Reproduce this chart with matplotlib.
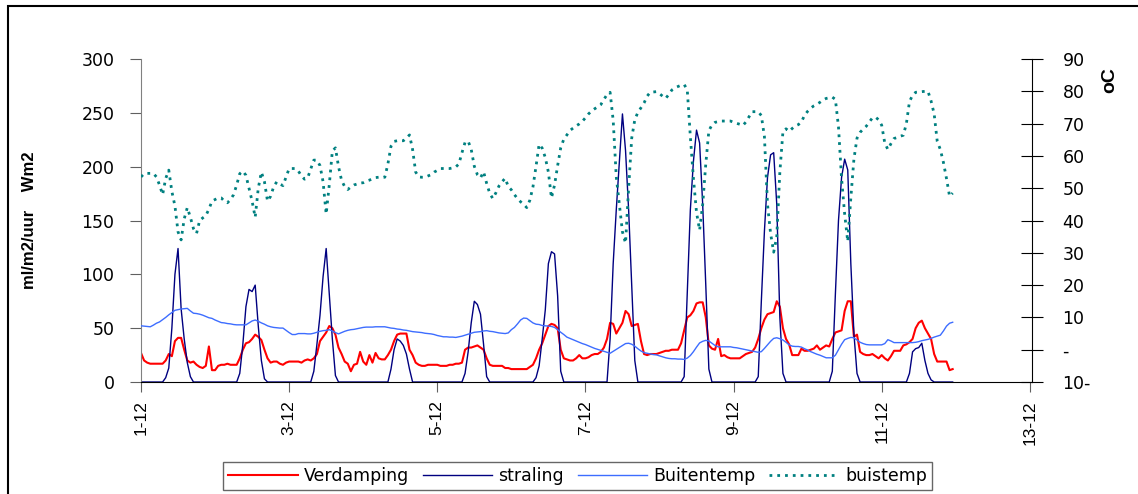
import numpy as np
import matplotlib
matplotlib.use("Agg")
import matplotlib.pyplot as plt
from matplotlib.patches import Rectangle

plt.rcParams['font.family'] = ['DejaVu Sans']

# hourly data, 11 days starting 1-12 00:00 (one row per day)
verdamping = [
    27, 20, 18, 17, 17, 17, 17, 17, 20, 26, 24, 38, 41, 41, 30, 20, 18, 19, 16, 14, 13, 15, 33, 11,
    11, 15, 16, 16, 17, 16, 16, 16, 22, 30, 36, 37, 40, 44, 42, 39, 30, 22, 18, 19, 19, 17, 16, 18,
    19, 19, 19, 19, 18, 20, 21, 20, 22, 26, 38, 42, 46, 52, 50, 44, 32, 26, 19, 17, 10, 16, 17, 28,
    19, 16, 25, 18, 27, 22, 21, 21, 25, 30, 38, 44, 45, 45, 45, 30, 25, 18, 16, 15, 15, 16, 16, 16,
    16, 15, 15, 15, 16, 16, 17, 17, 18, 30, 32, 32, 33, 34, 32, 30, 22, 16, 15, 15, 15, 15, 13, 13,
    12, 12, 12, 12, 12, 12, 14, 16, 22, 30, 36, 44, 52, 54, 53, 50, 30, 22, 21, 20, 20, 22, 25, 22,
    22, 23, 25, 26, 26, 28, 32, 40, 55, 54, 45, 50, 55, 66, 63, 52, 53, 54, 38, 26, 25, 26, 26, 26,
    27, 28, 29, 29, 30, 30, 30, 36, 48, 60, 62, 66, 73, 74, 74, 60, 34, 31, 30, 40, 24, 25, 23, 22,
    22, 22, 22, 24, 26, 27, 28, 32, 40, 50, 58, 63, 64, 65, 75, 70, 50, 40, 35, 25, 25, 25, 31, 29,
    29, 30, 31, 34, 30, 32, 34, 33, 40, 46, 47, 48, 66, 75, 75, 42, 44, 28, 26, 25, 25, 26, 24, 22,
    25, 22, 20, 24, 29, 29, 29, 34, 35, 37, 40, 50, 55, 57, 50, 45, 40, 26, 19, 19, 19, 19, 11, 12,
]

straling = [
    0, 0, 0, 0, 0, 0, 0, 0, 4, 13, 50, 100, 124, 68, 40, 18, 5, 0, 0, 0, 0, 0, 0, 0,
    0, 0, 0, 0, 0, 0, 0, 0, 8, 35, 70, 86, 84, 90, 52, 20, 3, 0, 0, 0, 0, 0, 0, 0,
    0, 0, 0, 0, 0, 0, 0, 0, 10, 35, 62, 98, 124, 82, 40, 6, 0, 0, 0, 0, 0, 0, 0, 0,
    0, 0, 0, 0, 0, 0, 0, 0, 0, 12, 30, 40, 38, 34, 26, 12, 0, 0, 0, 0, 0, 0, 0, 0,
    0, 0, 0, 0, 0, 0, 0, 0, 0, 8, 28, 55, 75, 72, 63, 35, 5, 0, 0, 0, 0, 0, 0, 0,
    0, 0, 0, 0, 0, 0, 0, 0, 4, 15, 40, 67, 110, 121, 119, 80, 10, 0, 0, 0, 0, 0, 0, 0,
    0, 0, 0, 0, 0, 0, 0, 0, 40, 110, 160, 205, 249, 215, 160, 90, 20, 0, 0, 0, 0, 0, 0, 0,
    0, 0, 0, 0, 0, 0, 0, 0, 5, 82, 160, 205, 234, 222, 165, 90, 12, 0, 0, 0, 0, 0, 0, 0,
    0, 0, 0, 0, 0, 0, 0, 0, 5, 75, 140, 190, 211, 213, 165, 60, 8, 0, 0, 0, 0, 0, 0, 0,
    0, 0, 0, 0, 0, 0, 0, 0, 10, 82, 150, 190, 207, 197, 110, 45, 8, 0, 0, 0, 0, 0, 0, 0,
    0, 0, 0, 0, 0, 0, 0, 0, 0, 8, 28, 31, 32, 36, 20, 8, 2, 0, 0, 0, 0, 0, 0, 0,
]

buitentemp = [
    7.4, 7.3, 7.2, 7.1, 7.6, 8.2, 8.6, 9.3, 10.0, 10.8, 11.5, 12.2, 12.4, 12.6, 12.7, 12.8, 12.0, 11.3, 11.2, 11.0, 10.7, 10.3, 9.9, 9.7,
    9.2, 8.8, 8.4, 8.3, 8.1, 8.0, 7.8, 7.7, 7.7, 7.7, 7.7, 8.3, 8.9, 9.2, 8.8, 8.3, 7.9, 7.4, 7.1, 6.9, 6.8, 6.7, 6.7, 6.0,
    5.3, 4.7, 4.7, 5.0, 5.0, 5.0, 4.9, 4.9, 5.1, 5.4, 5.7, 5.9, 6.0, 6.2, 5.8, 5.3, 4.9, 5.3, 5.7, 6.0, 6.2, 6.3, 6.5, 6.7,
    6.9, 7.0, 7.0, 7.0, 7.1, 7.1, 7.1, 7.1, 6.9, 6.7, 6.6, 6.4, 6.3, 6.1, 6.0, 5.8, 5.6, 5.5, 5.4, 5.3, 5.1, 5.0, 4.9, 4.7,
    4.4, 4.2, 4.0, 4.0, 3.9, 3.9, 3.8, 4.0, 4.2, 4.5, 4.8, 5.1, 5.4, 5.5, 5.6, 5.8, 5.9, 5.7, 5.6, 5.4, 5.2, 5.1, 5.0, 5.2,
    6.2, 6.9, 8.0, 9.2, 9.8, 9.7, 9.0, 8.3, 7.9, 7.8, 7.5, 7.4, 7.3, 7.2, 6.9, 6.2, 5.4, 4.7, 3.9, 3.5, 3.1, 2.7, 2.3, 1.9,
    1.6, 1.2, 0.8, 0.4, 0.1, -0.2, -0.5, -0.8, -1.1, -0.5, 0.1, 0.7, 1.3, 1.9, 2.0, 1.7, 1.1, 0.3, -0.4, -0.9, -1.1, -1.3, -1.5, -1.6,
    -1.9, -2.2, -2.5, -2.7, -2.8, -2.8, -2.9, -2.9, -3.0, -2.6, -1.8, -0.6, 0.8, 2.1, 2.6, 2.9, 2.7, 2.0, 1.3, 0.9, 0.9, 0.9, 0.9, 0.9,
    0.7, 0.6, 0.4, 0.2, 0.0, -0.2, -0.4, -0.6, -0.8, -0.6, 0.4, 1.5, 2.6, 3.5, 3.7, 3.4, 3.0, 2.3, 1.5, 1.1, 1.0, 1.0, 0.8, 0.3,
    -0.1, -0.6, -1.0, -1.4, -1.7, -2.1, -2.5, -2.5, -2.5, -1.7, 0.0, 1.7, 3.1, 3.5, 3.8, 3.7, 3.0, 2.3, 1.9, 1.6, 1.5, 1.5, 1.5, 1.5,
    1.5, 1.9, 3.1, 2.7, 2.2, 2.2, 2.2, 2.2, 2.2, 2.2, 2.2, 2.3, 2.5, 2.8, 3.0, 3.2, 3.5, 3.9, 4.2, 4.5, 5.8, 7.3, 8.2, 8.5,
]

buistemp = [
    53.5, 54.5, 54.6, 54.6, 54.6, 53.5, 51.0, 48.0, 53.0, 55.6, 49.0, 44.5, 36.5, 34.0, 40.5, 44.0, 41.0, 37.5, 36.0, 40.0, 40.8, 41.5, 43.5, 46.0,
    46.5, 47.0, 47.0, 46.0, 45.5, 46.5, 48.0, 51.0, 54.5, 55.3, 54.0, 50.0, 46.0, 41.0, 50.0, 55.0, 52.0, 46.0, 47.5, 50.5, 52.0, 51.3, 50.8, 53.5,
    56.1, 56.1, 56.1, 55.3, 53.8, 52.8, 53.2, 56.0, 58.7, 58.7, 57.0, 52.0, 42.0, 51.0, 61.5, 62.5, 56.7, 52.4, 50.5, 49.6, 50.4, 51.0, 51.3, 51.6,
    51.7, 52.2, 52.5, 52.9, 53.3, 53.4, 53.4, 53.4, 57.5, 63.0, 64.5, 64.7, 64.7, 64.7, 65.5, 66.5, 62.0, 55.0, 53.5, 53.4, 53.4, 53.8, 54.2, 55.0,
    55.5, 56.1, 56.1, 56.1, 56.1, 56.3, 56.6, 57.5, 61.0, 64.2, 64.6, 62.0, 56.8, 54.2, 53.2, 55.1, 51.5, 48.4, 46.8, 48.6, 50.7, 52.0, 53.1, 50.5,
    49.5, 48.0, 46.8, 45.8, 45.0, 44.0, 46.3, 50.4, 56.8, 63.6, 62.4, 59.5, 55.0, 47.0, 51.0, 57.0, 62.5, 65.2, 66.5, 67.9, 68.6, 69.3, 69.9, 70.7,
    71.8, 73.0, 73.9, 74.6, 75.2, 75.9, 77.5, 79.0, 79.7, 71.0, 53.5, 45.0, 36.5, 33.0, 50.0, 65.5, 71.2, 73.5, 74.9, 76.4, 78.5, 79.7, 79.8, 79.9,
    79.3, 78.5, 77.8, 79.0, 80.4, 81.1, 81.5, 81.9, 82.1, 80.5, 66.0, 53.0, 42.5, 37.0, 45.0, 57.5, 67.8, 69.6, 70.4, 70.6, 70.8, 70.8, 70.8, 70.8,
    70.4, 70.1, 69.8, 69.4, 70.5, 72.1, 73.7, 73.7, 73.7, 72.5, 66.0, 45.0, 36.0, 30.2, 35.0, 55.0, 67.5, 68.4, 67.6, 68.5, 69.3, 69.7, 70.5, 72.6,
    73.8, 74.8, 75.5, 76.0, 76.6, 77.3, 77.8, 78.0, 78.2, 77.5, 69.0, 53.0, 42.0, 33.5, 47.0, 59.0, 65.5, 67.3, 68.3, 69.2, 70.5, 71.8, 72.0, 71.2,
    69.5, 64.0, 62.0, 63.8, 65.4, 65.7, 66.1, 66.4, 70.0, 76.8, 78.8, 79.7, 79.8, 79.9, 80.0, 80.0, 77.0, 73.0, 64.5, 62.0, 58.0, 53.0, 47.5, 48.5,
]

hours = np.arange(len(verdamping))
days = 1 + hours / 24.0

day_ticks = [1, 3, 5, 7, 9, 11, 13]
day_labels = ['1-12', '3-12', '5-12', '7-12', '9-12', '11-12', '13-12']
left_ticks = [0, 50, 100, 150, 200, 250, 300]
right_ticks = [-10, 0, 10, 20, 30, 40, 50, 60, 70, 80, 90]
right_labels = ['10-', '-', '10', '20', '30', '40', '50', '60', '70', '80', '90']

fig = plt.figure(figsize=(11.38, 4.94), dpi=100)
ax = fig.add_axes([0.1239, 0.2267, 0.7830, 0.6538])
ax2 = ax.twinx()

l1, = ax.plot(days, verdamping, color='#ff0000', lw=1.5, label='Verdamping')
l2, = ax.plot(days, straling, color='#000080', lw=1.0, label='straling')
l3, = ax2.plot(days, buitentemp, color='#3d6dff', lw=1.0, label='Buitentemp')
l4, = ax2.plot(days, buistemp, color='#008080', lw=2.0, dashes=(1, 1.8), label='buistemp')

ax.set_xlim(1, 13.03)
ax.set_ylim(0, 300)
ax2.set_ylim(-10, 90)

ax.set_xticks(day_ticks)
ax.set_xticklabels(day_labels, rotation=90, fontsize=12.5, family='Liberation Sans')
ax.set_yticks(left_ticks)
ax.set_yticklabels([str(v) for v in left_ticks], fontsize=12.5)
ax2.set_yticks(right_ticks)
ax2.set_yticklabels(right_labels, fontsize=12.5)

for a in (ax, ax2):
    a.spines['top'].set_visible(False)
ax2.spines['left'].set_visible(False)
ax2.spines['bottom'].set_visible(False)
ax.spines['right'].set_visible(False)
ax.spines['left'].set_color('#808080')
ax.spines['bottom'].set_color('black')
ax2.spines['right'].set_color('black')

ax.tick_params(axis='y', direction='out', length=8, color='#606060', pad=11)
ax.tick_params(axis='x', direction='out', length=7, color='#606060', pad=6)
ax2.tick_params(axis='y', direction='inout', length=16, color='black', pad=14)

ax.set_ylabel('ml/m2/uur    Wm2', fontsize=12, fontweight='bold',
              family='Liberation Sans', labelpad=32)
fig.text(1110 / 1138, 1 - 80 / 494, 'oC', rotation=90, fontsize=14,
         fontweight='bold', family='Liberation Sans', ha='center', va='center')

fig.legend(handles=[l1, l2, l3, l4], loc='center', ncol=4,
           bbox_to_anchor=(577.5 / 1138, 1 - 476 / 494), fontsize=12.5,
           frameon=True, fancybox=False, edgecolor='#404040',
           handlelength=4.0, handletextpad=0.35, columnspacing=0.8,
           borderpad=0.3, borderaxespad=0)

fig.patches.append(Rectangle((8 / 1138, -0.1), 1.2, 1.1 - 6 / 494,
                             transform=fig.transFigure, fill=False,
                             edgecolor='black', lw=1.5))

fig.savefig('out.png', dpi=100)
